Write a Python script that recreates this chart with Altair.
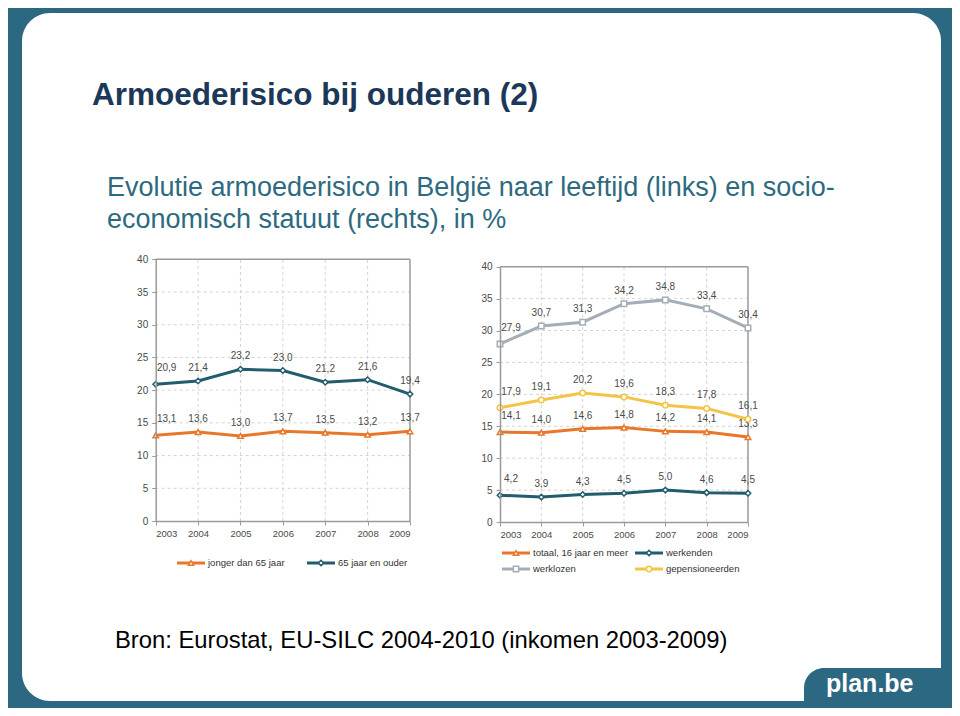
import altair as alt
import pandas as pd

# ---------------- data ----------------
years = [2003, 2004, 2005, 2006, 2007, 2008, 2009]
y_ticks = [0, 5, 10, 15, 20, 25, 30, 35, 40]

left_names = ["jonger dan 65 jaar", "65 jaar en ouder"]
jonger = [13.1, 13.6, 13.0, 13.7, 13.5, 13.2, 13.7]
ouder = [20.9, 21.4, 23.2, 23.0, 21.2, 21.6, 19.4]

right_names = ["totaal, 16 jaar en meer", "werkenden", "werklozen", "gepensioneerden"]
totaal = [14.1, 14.0, 14.6, 14.8, 14.2, 14.1, 13.3]
werkenden = [4.2, 3.9, 4.3, 4.5, 5.0, 4.6, 4.5]
werklozen = [27.9, 30.7, 31.3, 34.2, 34.8, 33.4, 30.4]
gepensioneerden = [17.9, 19.1, 20.2, 19.6, 18.3, 17.8, 16.1]

title_text = "Armoederisico bij ouderen (2)"
subtitle_lines = ["Evolutie armoederisico in België naar leeftijd (links) en socio-",
                  "economisch statuut (rechts), in %"]
source_text = "Bron: Eurostat, EU-SILC 2004-2010 (inkomen 2003-2009)"
logo_text = "plan.be"

# ---------------- styles ----------------
W, H = 944, 700
FRAME = "#2C6882"
TITLE_C = "#1C3858"
SUB_C = "#2E6A7F"
ORANGE = "#E8772B"
TEAL = "#235C6D"
GREY = "#A3AEB8"
YELLOW = "#F3C446"
AXC = "#9A9A9A"
GRIDC = "#D4D4D4"
LABC = "#4A4A4A"
FONT = "Liberation Sans"


def series_df(vals):
    return pd.DataFrame({"year": years, "value": vals,
                         "label": [f"{v:.1f}".replace(".", ",") for v in vals]})


def panel(series, xr, yr):
    xs = alt.Scale(domain=[2003, 2009], range=xr, nice=False, zero=False)
    ys = alt.Scale(domain=[0, 40], range=yr, nice=False)
    common = dict(title=None, grid=False, domainColor=AXC, tickColor=AXC, tickSize=4,
                  labelColor=LABC, labelFont=FONT, domainWidth=1.5, zindex=1)
    x_axis = alt.Axis(orient="bottom", offset=yr[0] - H, values=years, format="d",
                      labelFontSize=9.5, labelPadding=3, labelOverlap=False, **common)
    y_axis = alt.Axis(orient="left", offset=-xr[0], values=y_ticks,
                      labelFontSize=10, labelPadding=4, **common)

    hg = pd.DataFrame({"v": y_ticks[1:-1], "x0": 2003, "x1": 2009})
    vg = pd.DataFrame({"yr": years[1:-1], "lo": 0, "hi": 40})
    layers = [
        alt.Chart(hg).mark_rule(color=GRIDC, strokeDash=[3, 3], strokeWidth=1).encode(
            x=alt.X("x0:Q", scale=xs, axis=None), x2="x1:Q",
            y=alt.Y("v:Q", scale=ys, axis=None)),
        alt.Chart(vg).mark_rule(color=GRIDC, strokeDash=[3, 3], strokeWidth=1).encode(
            x=alt.X("yr:Q", scale=xs, axis=None),
            y=alt.Y("lo:Q", scale=ys, axis=None), y2="hi:Q"),
        alt.Chart(pd.DataFrame({"v": [40], "x0": 2003, "x1": 2009})).mark_rule(
            color=AXC, strokeWidth=1.5).encode(
            x=alt.X("x0:Q", scale=xs, axis=None), x2="x1:Q",
            y=alt.Y("v:Q", scale=ys, axis=None)),
        alt.Chart(pd.DataFrame({"yr": [2009], "lo": 0, "hi": 40})).mark_rule(
            color=AXC, strokeWidth=1.5).encode(
            x=alt.X("yr:Q", scale=xs, axis=None),
            y=alt.Y("lo:Q", scale=ys, axis=None), y2="hi:Q"),
    ]
    first = True
    for vals, color, shape in series:
        df = series_df(vals)
        xe = alt.X("year:Q", scale=xs, axis=x_axis if first else None)
        ye = alt.Y("value:Q", scale=ys, axis=y_axis if first else None)
        first = False
        layers.append(alt.Chart(df).mark_line(color=color, strokeWidth=3).encode(x=xe, y=ye))
    for vals, color, shape in series:
        df = series_df(vals)
        xe = alt.X("year:Q", scale=xs, axis=None)
        ye = alt.Y("value:Q", scale=ys, axis=None)
        layers.append(alt.Chart(df).mark_point(shape=shape, filled=True, fill="white",
                                               stroke=color, strokeWidth=1.5, size=30,
                                               opacity=1).encode(x=xe, y=ye))
        layers.append(alt.Chart(df).transform_filter("datum.year > 2003").mark_text(
            fontSize=10, font=FONT, color=LABC, dy=-13, baseline="middle").encode(
            x=xe, y=ye, text="label:N"))
        layers.append(alt.Chart(df).transform_filter("datum.year == 2003").mark_text(
            fontSize=10, font=FONT, color=LABC, dy=-16, dx=11, baseline="middle").encode(
            x=xe, y=ye, text="label:N"))
    return layers


one = pd.DataFrame({"k": [0]})


def rect(x, x2, y, y2, **kw):
    return alt.Chart(one).mark_rect(**kw).encode(
        x=alt.value(x), x2=alt.value(x2), y=alt.value(y), y2=alt.value(y2))


def text(t, x, y, **kw):
    return alt.Chart(pd.DataFrame({"t": [t]})).mark_text(
        align="left", baseline="alphabetic", font=FONT, **kw).encode(
        x=alt.value(x), y=alt.value(y), text="t:N")


def legend_entry(name, color, shape, x0, y):
    d = pd.DataFrame({"t": [name]})
    return [
        alt.Chart(d).mark_rule(color=color, strokeWidth=3).encode(
            x=alt.value(x0), x2=alt.value(x0 + 28), y=alt.value(y)),
        alt.Chart(d).mark_point(shape=shape, filled=True, fill="white", stroke=color,
                                strokeWidth=1.5, size=28, opacity=1).encode(
            x=alt.value(x0 + 14), y=alt.value(y)),
        alt.Chart(d).mark_text(align="left", baseline="middle", font=FONT, fontSize=9.5,
                               color="#333333").encode(
            x=alt.value(x0 + 31), y=alt.value(y), text="t:N"),
    ]


layers = [
    rect(0, W, 0, H, color=FRAME),
    rect(14, 933, 5, 693, color="white", cornerRadius=28),
    rect(796, W, 660, H, color=FRAME, cornerRadiusTopLeft=30),
    text(title_text, 84, 97, fontSize=31.5, fontWeight="bold", color=TITLE_C),
    text(subtitle_lines[0], 99, 188, fontSize=27, color=SUB_C),
    text(subtitle_lines[1], 99, 220, fontSize=27, color=SUB_C),
    text(source_text, 107, 640, fontSize=23.8, color="black"),
    text(logo_text, 818, 684, fontSize=25, fontWeight="bold", color="white"),
]
layers += panel([(jonger, ORANGE, "triangle-up"), (ouder, TEAL, "diamond")],
                [147.7, 402], [513, 251.3])
layers += panel([(totaal, ORANGE, "triangle-up"), (werkenden, TEAL, "diamond"),
                 (werklozen, GREY, "square"), (gepensioneerden, YELLOW, "circle")],
                [492, 740], [514, 258.7])
layers += legend_entry(left_names[0], ORANGE, "triangle-up", 169, 555)
layers += legend_entry(left_names[1], TEAL, "diamond", 299, 555)
layers += legend_entry(right_names[0], ORANGE, "triangle-up", 494, 545)
layers += legend_entry(right_names[1], TEAL, "diamond", 627, 545)
layers += legend_entry(right_names[2], GREY, "square", 494, 561)
layers += legend_entry(right_names[3], YELLOW, "circle", 627, 561)

chart = alt.layer(*layers).resolve_scale(x="independent", y="independent").properties(
    width=W, height=H, padding=0,
    autosize=alt.AutoSizeParams(type="none"),
    background="white",
).configure_view(strokeWidth=0)

chart.save("out.html", embed_options={"renderer": "svg", "actions": False})
